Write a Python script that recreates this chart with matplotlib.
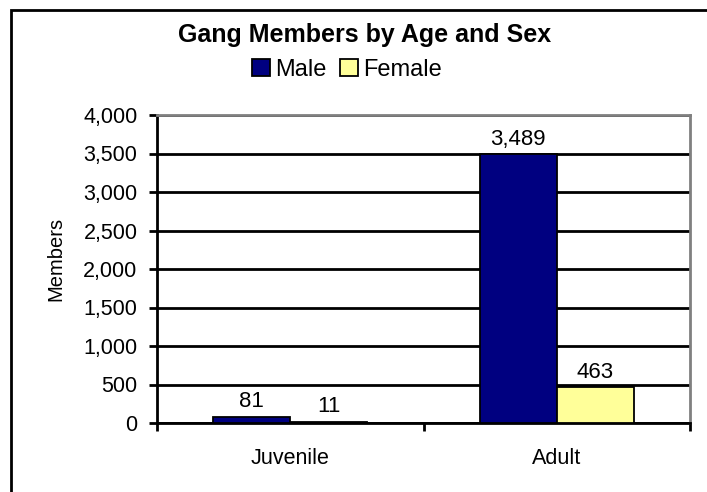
import matplotlib.pyplot as plt
import numpy as np
from matplotlib.patches import Rectangle

categories = ['Juvenile', 'Adult']
male = [81, 3489]
female = [11, 463]
series_names = ['Male', 'Female']
yticks = [0, 500, 1000, 1500, 2000, 2500, 3000, 3500, 4000]

plt.rcParams['font.family'] = ['Liberation Sans', 'DejaVu Sans']

W, H = 707, 492
fig = plt.figure(figsize=(W / 100, H / 100), dpi=100)
# outer chart frame (only left and top edges fall inside the picture)
fig.patches.append(Rectangle((11 / W, -0.1), 1.2, 1 - 10 / H + 0.1, transform=fig.transFigure,
                             fill=False, edgecolor='black', linewidth=2))

ax = fig.add_axes([157 / W, 1 - 423 / H, 533 / W, 308 / H])
x = np.arange(len(categories))
w = 0.289
b1 = ax.bar(x - w / 2, male, w, color='#000080', edgecolor='black', linewidth=1.3,
            label=series_names[0], zorder=3)
b2 = ax.bar(x + w / 2, female, w, color='#FFFF99', edgecolor='black', linewidth=1.3,
            label=series_names[1], zorder=3)

for bars, vals in [(b1, male), (b2, female)]:
    for r, v in zip(bars, vals):
        ax.annotate(f'{v:,}', (r.get_x() + r.get_width() / 2, v), xytext=(0, 7),
                    textcoords='offset points', ha='center', va='baseline', fontsize=16)

ax.set_xlim(-0.5, 1.5)
ax.set_ylim(0, 4000)
ax.set_yticks(yticks)
ax.set_yticklabels([f'{t:,}' for t in yticks], fontsize=15.5)
ax.set_xticks([-0.5, 0.5, 1.5])
ax.set_xticklabels([])
ax.set_xticks(x, minor=True)
ax.set_xticklabels(categories, minor=True, fontsize=15.5)
ax.tick_params(axis='x', which='minor', length=0, pad=18)
ax.tick_params(axis='x', which='major', length=6, width=2, direction='out')
ax.tick_params(axis='y', length=6, width=2, direction='out', pad=8)
ax.grid(axis='y', color='black', linewidth=2, zorder=0)
ax.set_axisbelow(True)
for s in ['top', 'right']:
    ax.spines[s].set_color('#808080')
    ax.spines[s].set_linewidth(2)
ax.spines['left'].set_linewidth(2)
ax.spines['bottom'].set_linewidth(2)

fig.text(56 / W, 1 - 259 / H, 'Members', rotation=90, ha='center', va='center', fontsize=14.5)
fig.text(365 / W, 1 - 35 / H, 'Gang Members by Age and Sex', ha='center', va='center',
         fontsize=18, fontweight='bold')
fig.legend(handles=[b1, b2], loc='center', bbox_to_anchor=(347 / W, 1 - 70 / H), ncol=2,
           frameon=False, fontsize=17, handlelength=0.75, handleheight=0.75, handletextpad=0.2,
           columnspacing=0.6, borderaxespad=0)

fig.savefig('out.png', dpi=100)
